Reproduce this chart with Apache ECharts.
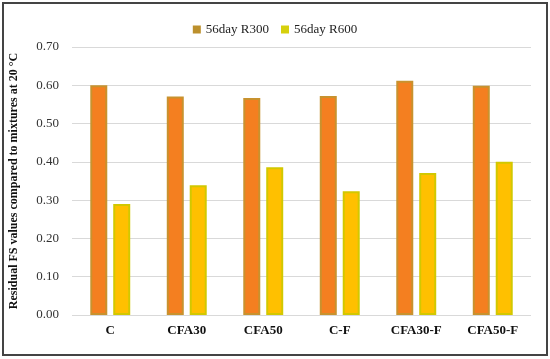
<!DOCTYPE html>
<html><head><meta charset="utf-8">
<script src="https://cdn.jsdelivr.net/npm/echarts@6/dist/echarts.min.js"></script>
<style>html,body{margin:0;padding:0;background:#fff}#c{width:550px;height:359px}</style>
</head><body><div id="c"></div>
<script>
const categories = ['C','CFA30','CFA50','C-F','CFA30-F','CFA50-F'];
const r300 = [0.600, 0.571, 0.567, 0.572, 0.612, 0.599];
const r600 = [0.290, 0.339, 0.386, 0.323, 0.371, 0.400];
const yTicks = [0,0.1,0.2,0.3,0.4,0.5,0.6,0.7];
const font = '"Liberation Serif", "DejaVu Serif", serif';
const chart = echarts.init(document.getElementById('c'));
chart.setOption({
  animation:false,
  textStyle:{fontFamily:font},
  graphic:[{type:'rect',shape:{x:3,y:3,width:544,height:352},style:{fill:'none',stroke:'#444',lineWidth:2}}],
  legend:{top:18,left:'center',itemWidth:8,itemHeight:8,itemGap:12,icon:'rect',
    textStyle:{fontFamily:font,fontSize:13,color:'#222'},
    data:[{name:'56day R300',itemStyle:{color:'#BC902C',borderWidth:0}},{name:'56day R600',itemStyle:{color:'#D6D00C',borderWidth:0}}]},
  grid:{left:70,right:19,top:47,bottom:44},
  xAxis:{type:'category',data:categories,axisLine:{show:false},axisTick:{show:false},
    axisLabel:{fontFamily:font,fontWeight:'bold',fontSize:13,color:'#111',margin:9}},
  yAxis:{type:'value',min:0,max:0.7,interval:0.1,
    name:'Residual FS values compared to mixtures at 20 °C',nameLocation:'middle',nameGap:52,
    nameTextStyle:{fontFamily:font,fontWeight:'bold',fontSize:12,color:'#111'},
    axisLabel:{fontFamily:font,fontSize:13,color:'#333',margin:13,formatter:v=>v.toFixed(2)},
    splitLine:{lineStyle:{color:'#d9d9d9'}},axisLine:{show:false},axisTick:{show:false}},
  series:[
    {name:'56day R300',type:'bar',data:r300,barWidth:17,barGap:'35%',
      itemStyle:{color:'#F47F20',borderColor:'#C8922E',borderWidth:2}},
    {name:'56day R600',type:'bar',data:r600,barWidth:17,
      itemStyle:{color:'#FFC000',borderColor:'#D2C800',borderWidth:2}}
  ]
});
</script></body></html>
